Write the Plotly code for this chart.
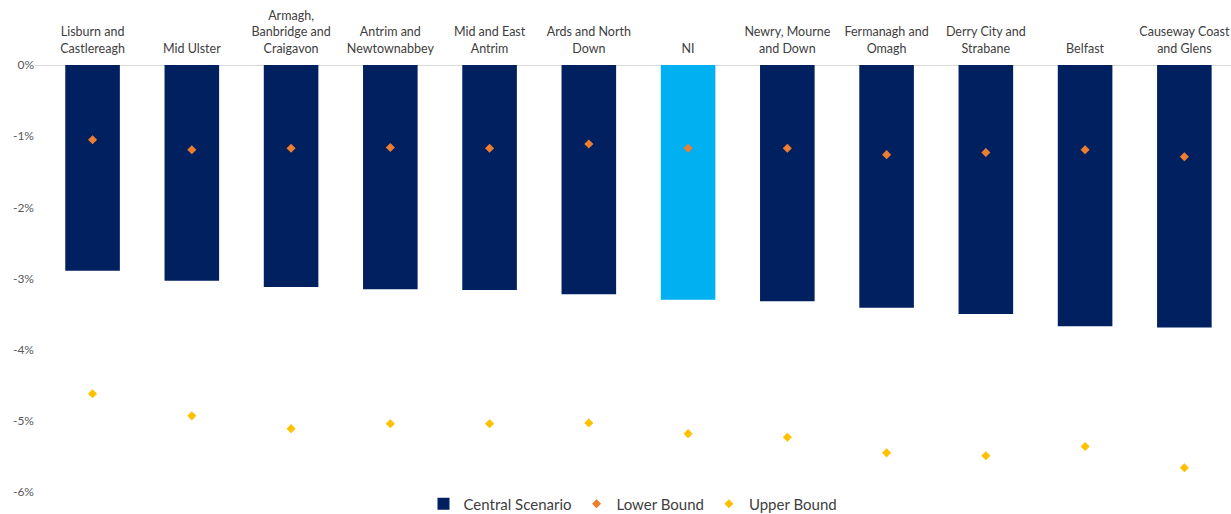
import plotly.graph_objects as go

# Council areas (top axis labels) and the three scenario series, in percent
areas = [
    "Lisburn and<br>Castlereagh",
    "Mid Ulster",
    "Armagh,<br>Banbridge and<br>Craigavon",
    "Antrim and<br>Newtownabbey",
    "Mid and East<br>Antrim",
    "Ards and North<br>Down",
    "NI",
    "Newry, Mourne<br>and Down",
    "Fermanagh and<br>Omagh",
    "Derry City and<br>Strabane",
    "Belfast",
    "Causeway Coast<br>and Glens",
]
central = [-2.89, -3.03, -3.12, -3.15, -3.16, -3.22, -3.30, -3.32, -3.41, -3.50, -3.67, -3.69]
lower = [-1.05, -1.19, -1.17, -1.16, -1.17, -1.11, -1.17, -1.17, -1.26, -1.23, -1.19, -1.29]
upper = [-4.62, -4.93, -5.11, -5.04, -5.04, -5.03, -5.18, -5.23, -5.45, -5.49, -5.36, -5.66]

y_ticks = [0, -1, -2, -3, -4, -5, -6]
y_tick_text = ["0%", "-1%", "-2%", "-3%", "-4%", "-5%", "-6%"]

NAVY = "#002060"
SKY = "#00B0F0"
ORANGE = "#ED7D31"
GOLD = "#FFC000"
TEXT = "#404040"

bar_colors = [SKY if a == "NI" else NAVY for a in areas]

fig = go.Figure()
fig.add_trace(go.Bar(
    x=areas, y=central, name="Central Scenario",
    marker=dict(color=bar_colors, line=dict(width=0)),
))
fig.add_trace(go.Scatter(
    x=areas, y=lower, name="Lower Bound", mode="markers",
    marker=dict(symbol="diamond", size=7, color=ORANGE),
))
fig.add_trace(go.Scatter(
    x=areas, y=upper, name="Upper Bound", mode="markers",
    marker=dict(symbol="diamond", size=7, color=GOLD),
))

fig.update_layout(
    width=1231, height=514,
    margin=dict(l=35, r=0, t=65, b=22, autoexpand=False),
    paper_bgcolor="white", plot_bgcolor="white",
    font=dict(family="Lato, Open Sans, sans-serif", size=12, color=TEXT),
    bargap=0.45,
    showlegend=True,
    legend=dict(
        orientation="h", x=0.5, xanchor="center", y=-0.028, yanchor="middle",
        font=dict(size=15, color=TEXT), itemwidth=30, traceorder="normal",
    ),
)
fig.update_xaxes(
    side="top", range=[-0.58, 11.47], showgrid=False, showline=False,
    ticks="", ticklabelstandoff=9, tickfont=dict(size=12.5, color=TEXT),
)
fig.update_yaxes(
    range=[-6, 0], tickvals=y_ticks, ticktext=y_tick_text,
    showgrid=False, zeroline=True, zerolinecolor="#D9D9D9", zerolinewidth=1,
    showline=False, ticks="", tickfont=dict(size=12, color="#595959"),
)

fig.write_html("out.html")
